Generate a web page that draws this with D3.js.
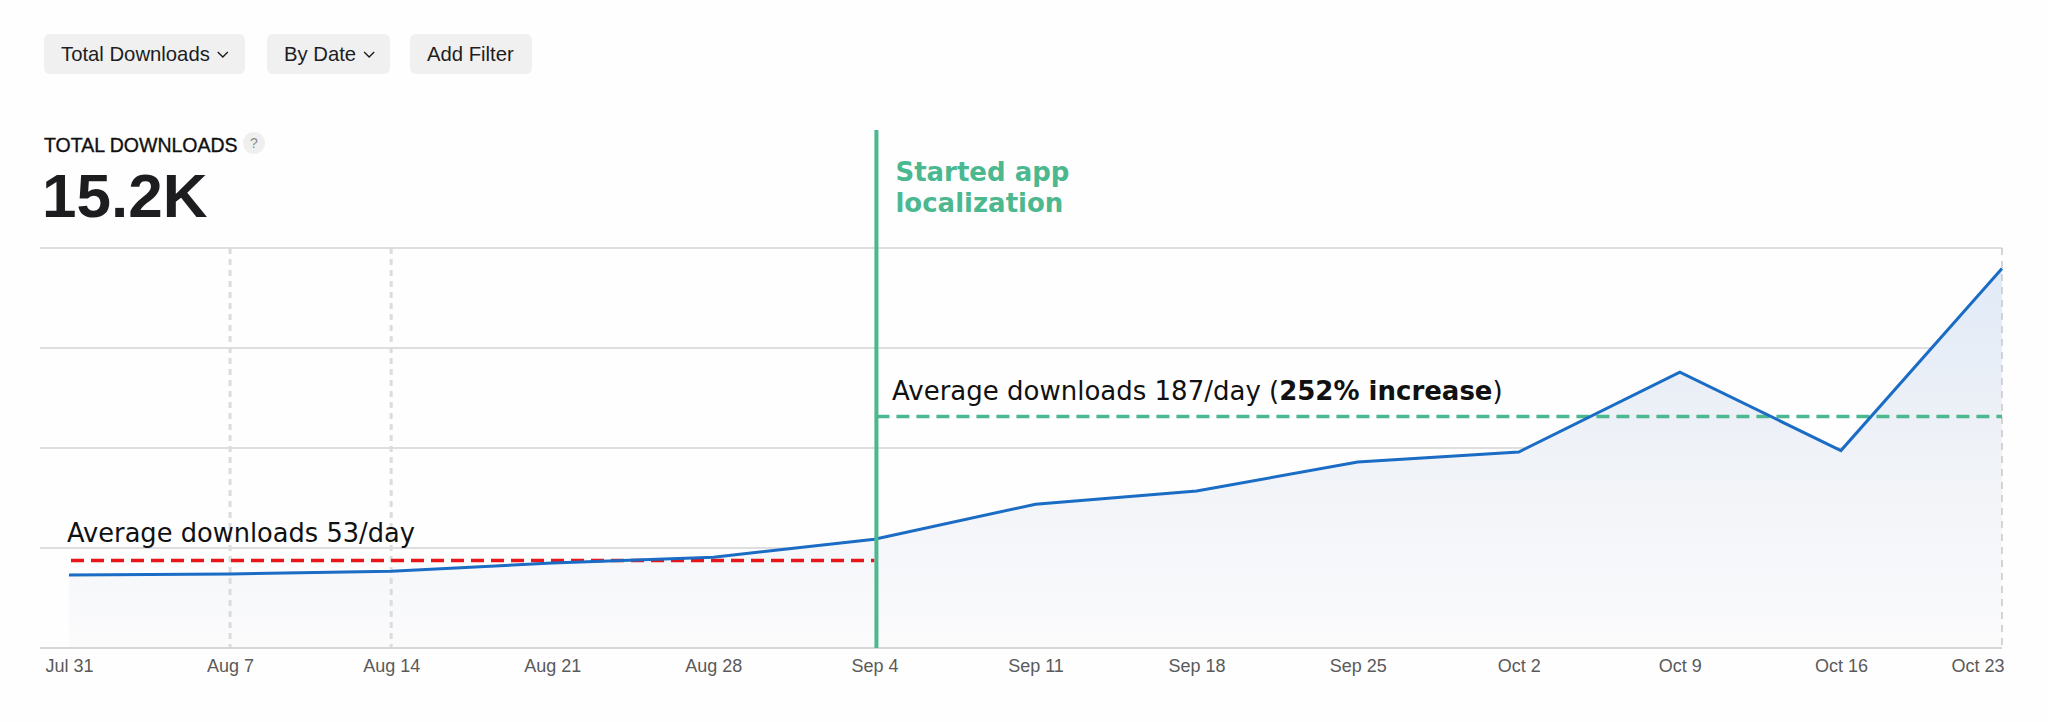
<!DOCTYPE html>
<html>
<head>
<meta charset="utf-8">
<script src="https://cdn.jsdelivr.net/npm/d3@7"></script>
<style>
  html, body { margin: 0; padding: 0; background: #fefefe; }
  svg { display: block; }
</style>
</head>
<body>
<svg id="chart" width="2048" height="722"></svg>
<script>
// ---- data ----
const weeks = ["Jul 31","Aug 7","Aug 14","Aug 21","Aug 28","Sep 4","Sep 11","Sep 18","Sep 25","Oct 2","Oct 9","Oct 16","Oct 23"];
const downloads = [365, 370, 384, 425, 454, 544, 719, 785, 930, 980, 1379, 987, 1897];
const yTicks = [0, 500, 1000, 1500, 2000];
const dottedWeeks = ["Aug 7", "Aug 14"];
const buttons = ["Total Downloads", "By Date", "Add Filter"];
const buttonChevrons = [true, true, false];
const metricLabel = "TOTAL DOWNLOADS";
const metricValue = "15.2K";
const eventWeek = "Sep 4";
const eventLabel = ["Started app", "localization"];
const avgBefore = { from: "Jul 31", to: "Sep 4", level: 437, text: "Average downloads 53/day" };
const avgAfter = { from: "Sep 4", to: "Oct 23", level: 1157, textA: "Average downloads 187/day (", textB: "252% increase", textC: ")" };

(function () {
// ---- layout ----
const svg = d3.select("#chart");
const pLeft = 40, pRight = 2002, pTop = 248, pBottom = 648;
const x = d3.scalePoint().domain(weeks).range([69, pRight]);
const y = d3.scaleLinear().domain([0, 2000]).range([pBottom, pTop]);

const green = "#4cb88f", blue = "#1a6cc4", red = "#e8161b";
const sans = "Liberation Sans, Arial, sans-serif";
const dejavu = "DejaVu Sans, sans-serif";

// ---- header buttons ----
const btnX = [44, 267, 410], btnW = [201, 123, 122];
const gb = svg.append("g");
buttons.forEach((b, i) => {
  gb.append("rect").attr("x", btnX[i]).attr("y", 34).attr("width", btnW[i]).attr("height", 40)
    .attr("rx", 6).attr("fill", "#f0f0f0");
  const t = gb.append("text").attr("x", btnX[i] + 17).attr("y", 61)
    .attr("font-family", sans).attr("font-size", 20.3)
    .attr("fill", "#1d1d1f").text(b);
  if (buttonChevrons[i]) {
    const w = t.node().getComputedTextLength();
    const cx = btnX[i] + 17 + w + 13;
    gb.append("path").attr("d", `M${cx - 5},52 L${cx},57 L${cx + 5},52`)
      .attr("fill", "none").attr("stroke", "#1d1d1f").attr("stroke-width", 1.4);
  }
});

// ---- metric ----
svg.append("text").attr("x", 44).attr("y", 152).attr("font-family", sans)
  .attr("font-size", 19.5).attr("fill", "#111").attr("stroke", "#111").attr("stroke-width", 0.35)
  .text(metricLabel);
svg.append("circle").attr("cx", 254).attr("cy", 143).attr("r", 11).attr("fill", "#efefef");
svg.append("text").attr("x", 254).attr("y", 148).attr("text-anchor", "middle")
  .attr("font-family", sans).attr("font-size", 14).attr("fill", "#8a8a8a").text("?");
svg.append("text").attr("x", 42).attr("y", 217).attr("font-family", sans)
  .attr("font-size", 62).attr("font-weight", "bold").attr("fill", "#1d1d1f").text(metricValue);

// ---- gradient ----
const defs = svg.append("defs");
const grad = defs.append("linearGradient").attr("id", "areaGrad")
  .attr("gradientUnits", "userSpaceOnUse").attr("x1", 0).attr("x2", 0).attr("y1", pTop).attr("y2", pBottom);
grad.append("stop").attr("offset", 0).attr("stop-color", "#dfe9f7");
grad.append("stop").attr("offset", 0.5).attr("stop-color", "#eff2f7");
grad.append("stop").attr("offset", 1).attr("stop-color", "#fbfbfc");

// ---- grid ----
svg.append("g").selectAll("line").data(yTicks.slice(1)).join("line")
  .attr("x1", pLeft).attr("x2", pRight).attr("y1", d => y(d)).attr("y2", d => y(d))
  .attr("stroke", "#d3d3d3").attr("stroke-width", 1.5);

// ---- area ----
const area = d3.area().x((d, i) => x(weeks[i])).y0(y(0)).y1(d => y(d));
svg.append("path").datum(downloads).attr("d", area).attr("fill", "url(#areaGrad)");

// dotted verticals
svg.append("g").selectAll("line").data(dottedWeeks).join("line")
  .attr("x1", d => x(d)).attr("x2", d => x(d)).attr("y1", pTop).attr("y2", pBottom)
  .attr("stroke", "#dcdcdc").attr("stroke-width", 3).attr("stroke-dasharray", "6,5");
// right edge dashed
svg.append("line").attr("x1", pRight).attr("x2", pRight).attr("y1", pTop).attr("y2", pBottom)
  .attr("stroke", "#c8c8c8").attr("stroke-width", 1.5).attr("stroke-dasharray", "7,6");

// axis
const axis = d3.axisBottom(x).tickSize(0).tickPadding(11);
const ga = svg.append("g").attr("transform", `translate(0,${pBottom})`).call(axis);
ga.select(".domain").remove();
ga.selectAll("text").attr("font-family", sans).attr("font-size", 18).attr("fill", "#5a5a5a");
ga.selectAll(".tick").filter(d => d === weeks[weeks.length - 1]).select("text").attr("text-anchor", "end").attr("x", 2);
svg.append("line").attr("x1", pLeft).attr("x2", pRight).attr("y1", pBottom).attr("y2", pBottom)
  .attr("stroke", "#d6d6d6").attr("stroke-width", 2);

// average lines
svg.append("line").attr("x1", x(avgBefore.from) + 2).attr("x2", x(avgBefore.to)).attr("y1", y(avgBefore.level)).attr("y2", y(avgBefore.level))
  .attr("stroke", red).attr("stroke-width", 3.5).attr("stroke-dasharray", "13,7");
svg.append("line").attr("x1", x(avgAfter.from) + 2).attr("x2", x(avgAfter.to)).attr("y1", y(avgAfter.level)).attr("y2", y(avgAfter.level))
  .attr("stroke", green).attr("stroke-width", 3.5).attr("stroke-dasharray", "13,7");

// main line
const line = d3.line().x((d, i) => x(weeks[i])).y(d => y(d));
svg.append("path").datum(downloads).attr("d", line).attr("fill", "none")
  .attr("stroke", blue).attr("stroke-width", 3).attr("stroke-linejoin", "miter");

// event line
const ex = x(eventWeek) + 2;
svg.append("line").attr("x1", ex).attr("x2", ex).attr("y1", 130).attr("y2", pBottom)
  .attr("stroke", green).attr("stroke-width", 4);
const et = svg.append("text").attr("font-family", dejavu).attr("font-size", 26)
  .attr("font-weight", "bold").attr("fill", green);
eventLabel.forEach((s, i) => et.append("tspan").attr("x", ex + 19).attr("y", 181 + i * 31).text(s));

// annotations
svg.append("text").attr("x", 67).attr("y", 542).attr("font-family", dejavu)
  .attr("font-size", 25.7).attr("fill", "#111").text(avgBefore.text);
const t2 = svg.append("text").attr("x", 892).attr("y", 400).attr("font-family", dejavu)
  .attr("font-size", 26).attr("fill", "#111");
t2.append("tspan").text(avgAfter.textA);
t2.append("tspan").attr("font-weight", "bold").text(avgAfter.textB);
t2.append("tspan").text(avgAfter.textC);
})();
</script>
</body>
</html>
